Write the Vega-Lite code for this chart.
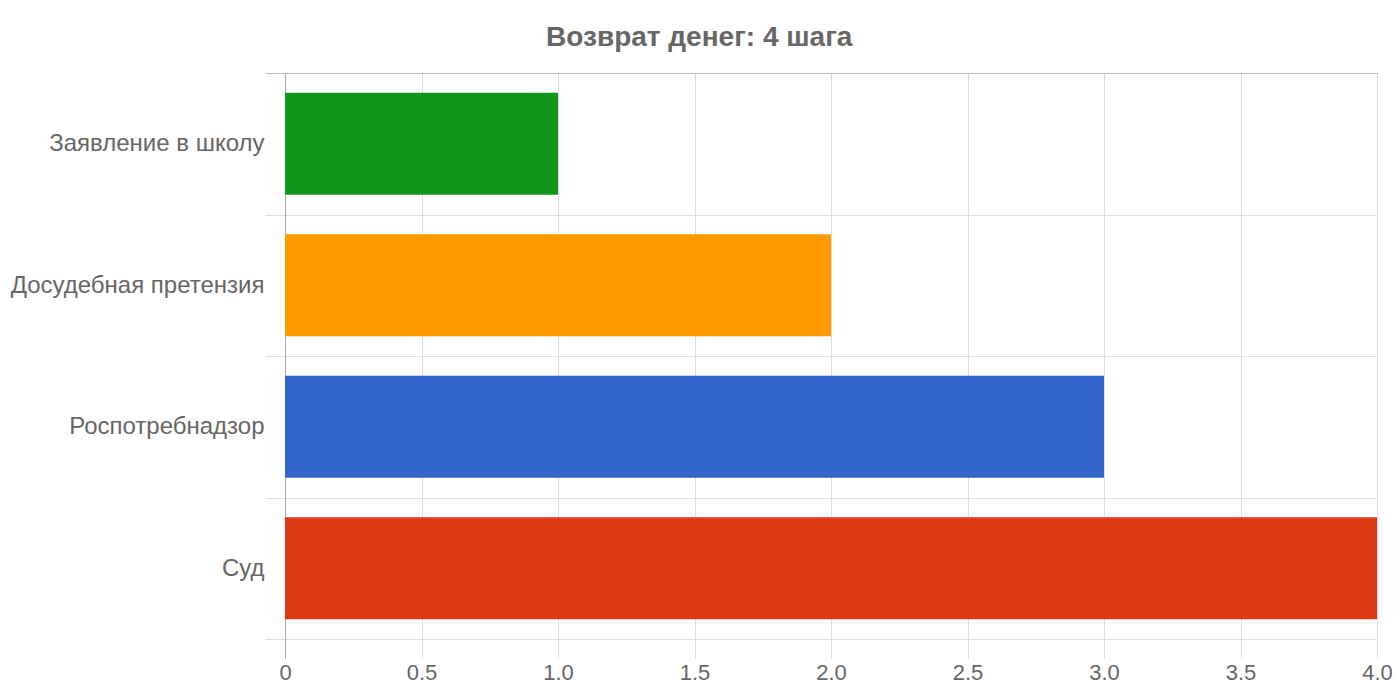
{
  "$schema": "https://vega.github.io/schema/vega-lite/v6.json",
  "autosize": "none",
  "width": 1092,
  "height": 566,
  "padding": {"left": 285, "top": 73, "right": 23, "bottom": 61},
  "background": "white",
  "title": {
    "text": "Возврат денег: 4 шага",
    "font": "Liberation Sans",
    "fontSize": 28,
    "fontWeight": "bold",
    "color": "#666666",
    "anchor": "middle",
    "frame": "bounds",
    "offset": 9,
    "dx": -2
  },
  "config": {"view": {"stroke": null}},
  "data": {
    "values": [
      {"step": "Заявление в школу", "value": 1, "color": "#109618"},
      {"step": "Досудебная претензия", "value": 2, "color": "#ff9900"},
      {"step": "Роспотребнадзор", "value": 3, "color": "#3366cc"},
      {"step": "Суд", "value": 4, "color": "#dc3912"}
    ]
  },
  "mark": {"type": "bar", "height": {"band": 0.72}},
  "encoding": {
    "y": {
      "field": "step",
      "type": "nominal",
      "sort": null,
      "title": null,
      "scale": {"paddingInner": 0, "paddingOuter": 0},
      "axis": {
        "tickBand": "extent",
        "grid": true,
        "gridColor": {"condition": {"test": "datum.extra", "value": "#bbbbbb"}, "value": "#dddddd"},
        "tickColor": {"condition": {"test": "datum.extra", "value": "#bbbbbb"}, "value": "#dddddd"},
        "tickSize": 20,
        "domainColor": "#aaaaaa",
        "labelFont": "Liberation Sans",
        "labelFontSize": 24,
        "labelColor": "#666666",
        "labelPadding": 1,
        "labelLimit": 400
      }
    },
    "x": {
      "field": "value",
      "type": "quantitative",
      "title": null,
      "scale": {"domain": [0, 4], "nice": false},
      "axis": {
        "values": [0, 0.5, 1, 1.5, 2, 2.5, 3, 3.5, 4],
        "labelExpr": "datum.value === 0 ? '0' : format(datum.value, '.1f')",
        "domain": false,
        "grid": true,
        "gridColor": "#dddddd",
        "tickColor": {"condition": {"test": "datum.value === 0", "value": "#aaaaaa"}, "value": "#dddddd"},
        "tickSize": 19,
        "labelFont": "Liberation Sans",
        "labelFontSize": 22,
        "labelColor": "#666666",
        "labelPadding": 4,
        "labelFlush": false
      }
    },
    "color": {"field": "color", "type": "nominal", "scale": null, "legend": null}
  }
}
